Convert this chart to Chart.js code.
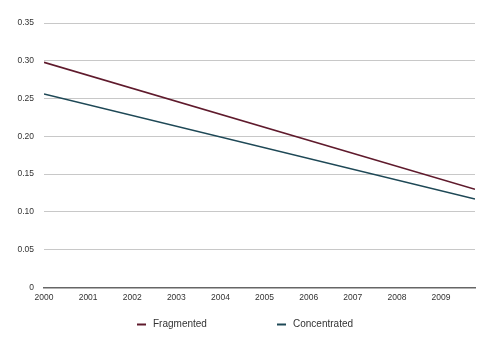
<!DOCTYPE html>
<html>
<head>
<meta charset="utf-8">
<script src="https://cdn.jsdelivr.net/npm/chart.js@4/dist/chart.umd.min.js"></script>
<style>
html,body{margin:0;padding:0;background:#fff;}
#wrap{width:500px;height:343px;}
</style>
</head>
<body>
<div id="wrap"><canvas id="c" width="500" height="343"></canvas></div>
<script>
const years = [2000, 2009.77];
const fragmented = [0.298, 0.130];
const concentrated = [0.256, 0.117];
const yearTicks = [2000, 2001, 2002, 2003, 2004, 2005, 2006, 2007, 2008, 2009];
const seriesNames = ['Fragmented', 'Concentrated'];

const toPts = (xs, ys) => xs.map((x, i) => ({x: x, y: ys[i]}));
const FONT = 'Liberation Sans, Arial, sans-serif';

// Bottom legend drawn from the chart's datasets, with wide item spacing
const wideLegend = {
  id: 'wideLegend',
  afterDraw(chart) {
    const ctx = chart.ctx;
    const starts = [137, 277];
    const y = 324.5;
    ctx.save();
    ctx.font = '10px ' + FONT;
    ctx.textBaseline = 'middle';
    ctx.textAlign = 'left';
    chart.data.datasets.forEach((ds, i) => {
      const x = starts[i];
      ctx.strokeStyle = ds.borderColor;
      ctx.lineWidth = 2;
      ctx.beginPath();
      ctx.moveTo(x, y);
      ctx.lineTo(x + 9, y);
      ctx.stroke();
      ctx.fillStyle = '#333';
      ctx.fillText(ds.label, x + 16, y);
    });
    ctx.restore();
  }
};

new Chart(document.getElementById('c'), {
  type: 'line',
  data: {
    datasets: [
      {label: seriesNames[0], data: toPts(years, fragmented), borderColor: '#5f1a2c', backgroundColor: '#5f1a2c', borderWidth: 1.6, pointRadius: 0, tension: 0},
      {label: seriesNames[1], data: toPts(years, concentrated), borderColor: '#1e4856', backgroundColor: '#1e4856', borderWidth: 1.6, pointRadius: 0, tension: 0}
    ]
  },
  plugins: [wideLegend],
  options: {
    responsive: false,
    animation: false,
    layout: {padding: {top: 23, right: 25, left: 0, bottom: 35.5}},
    plugins: {
      tooltip: {enabled: false},
      legend: {display: false}
    },
    scales: {
      x: {
        type: 'linear',
        min: years[0],
        max: years[years.length - 1],
        afterBuildTicks: s => { s.ticks = yearTicks.map(v => ({value: v})); },
        afterFit: s => { s.height = 20; },
        ticks: {
          autoSkip: false,
          maxRotation: 0,
          padding: 5,
          color: '#333',
          font: {family: FONT, size: 8.5},
          callback: v => String(v)
        },
        grid: {display: false, drawTicks: false},
        border: {display: true, color: '#666', width: 1.5}
      },
      y: {
        min: 0,
        max: 0.35,
        afterFit: s => { s.width = 44; },
        ticks: {
          stepSize: 0.05,
          padding: 10,
          color: '#333',
          font: {family: FONT, size: 8.5},
          callback: v => (Math.abs(v) < 1e-9 ? '0' : v.toFixed(2))
        },
        grid: {color: '#c8c8c8', lineWidth: 1, drawTicks: false},
        border: {display: false}
      }
    }
  }
});
</script>
</body>
</html>
